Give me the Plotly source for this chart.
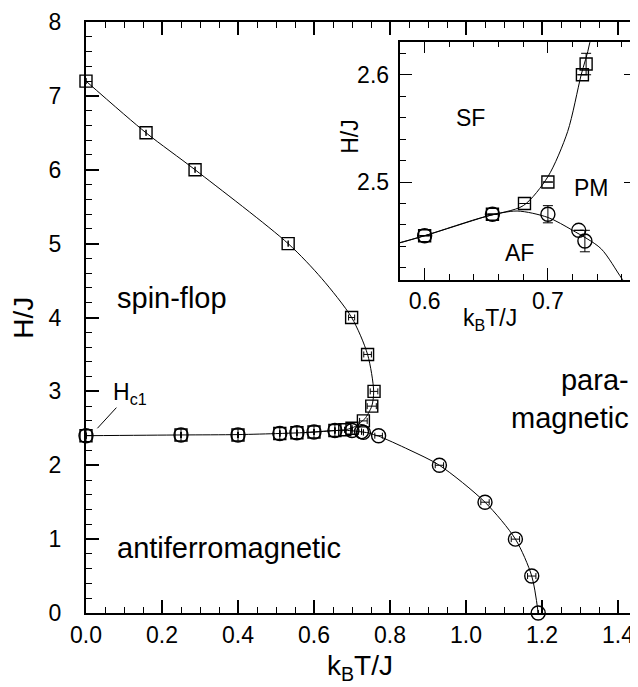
import plotly.graph_objects as go

FONT = "Liberation Sans, Arial, Helvetica, sans-serif"

# ---------------- data ----------------
# spin-flop boundary (squares), main panel
sf_T = [0.0, 0.158, 0.287, 0.532, 0.699, 0.741, 0.758, 0.752, 0.730, 0.700, 0.681]
sf_H = [7.2, 6.5, 6.0, 5.0, 4.0, 3.5, 3.0, 2.8, 2.6, 2.5, 2.48]
sf_errT = [0.0, 0.0, 0.0, 0.0, 0.008, 0.01, 0.01, 0.012, 0.01, 0.0, 0.0]

# low-field points (both squares and circles)
low_T = [0.0, 0.25, 0.40, 0.51, 0.555, 0.60, 0.655]
low_H = [2.40, 2.41, 2.41, 2.43, 2.44, 2.45, 2.47]

# antiferro / para boundary (circles)
af_T = [0.70, 0.725, 0.730, 0.77, 0.93, 1.05, 1.13, 1.173, 1.19]
af_H = [2.47, 2.455, 2.445, 2.40, 2.0, 1.5, 1.0, 0.5, 0.0]
af_errT = [0.0, 0.0, 0.0, 0.01, 0.011, 0.011, 0.011, 0.011, 0.0]

# fitted phase-boundary curves
curve_sf_T = [0.0, 0.158, 0.287, 0.532, 0.62, 0.699, 0.741, 0.757, 0.752, 0.734, 0.727,
              0.716, 0.70, 0.68, 0.65, 0.60, 0.575]
curve_sf_H = [7.2, 6.5, 6.0, 5.0, 4.53, 4.0, 3.5, 3.0, 2.8, 2.63, 2.60,
              2.547, 2.505, 2.478, 2.468, 2.45, 2.442]
curve_af_T = [0.0, 0.25, 0.40, 0.51, 0.575, 0.60, 0.65, 0.675, 0.70, 0.72, 0.743, 0.76,
              0.77, 0.85, 0.93, 1.05, 1.13, 1.173, 1.19]
curve_af_H = [2.40, 2.41, 2.415, 2.43, 2.442, 2.45, 2.468, 2.473, 2.467, 2.455, 2.438, 2.41,
              2.395, 2.21, 2.0, 1.5, 1.0, 0.5, 0.0]

# inset points
in_sq_T = [0.60, 0.655, 0.681, 0.70, 0.728, 0.731]
in_sq_H = [2.45, 2.47, 2.48, 2.50, 2.60, 2.61]
in_sq_err = [0.0, 0.0, 0.0, 0.0, 0.0, 0.01]
in_ci_T = [0.60, 0.655, 0.70, 0.725, 0.730]
in_ci_H = [2.45, 2.47, 2.47, 2.455, 2.445]
in_ci_err = [0.0, 0.0, 0.008, 0.0, 0.01]

# ---------------- figure ----------------
line_style = dict(color="black", width=1, shape="spline", smoothing=0.8)
fig = go.Figure()

for xa, ya in (("x", "y"), ("x2", "y2")):
    fig.add_trace(go.Scatter(x=curve_sf_T, y=curve_sf_H, mode="lines", line=line_style,
                             xaxis=xa, yaxis=ya, hoverinfo="skip"))
    fig.add_trace(go.Scatter(x=curve_af_T, y=curve_af_H, mode="lines", line=line_style,
                             xaxis=xa, yaxis=ya, hoverinfo="skip"))

sq_marker = dict(symbol="square-open", size=12, color="black", line=dict(width=1.4, color="black"))
ci_marker = dict(symbol="circle-open", size=14, color="black", line=dict(width=1.4, color="black"))

# main panel squares
fig.add_trace(go.Scatter(
    x=sf_T + low_T, y=sf_H + low_H, mode="markers", marker=sq_marker, cliponaxis=False,
    error_x=dict(type="data", array=sf_errT + [0.0] * len(low_T), width=3, thickness=1, color="black"),
    xaxis="x", yaxis="y"))
# main panel circles
fig.add_trace(go.Scatter(
    x=low_T + af_T, y=low_H + af_H, mode="markers", marker=ci_marker, cliponaxis=False,
    error_x=dict(type="data", array=[0.0] * len(low_T) + af_errT, width=3, thickness=1, color="black"),
    error_y=dict(type="data", array=[0.08] * len(low_T) + [0.0] * len(af_T), width=0, thickness=1, color="black"),
    xaxis="x", yaxis="y"))

# inset
fig.add_trace(go.Scatter(
    x=in_sq_T, y=in_sq_H, mode="markers", marker=sq_marker,
    error_y=dict(type="data", array=in_sq_err, width=5, thickness=1, color="black"),
    xaxis="x2", yaxis="y2"))
fig.add_trace(go.Scatter(
    x=in_ci_T, y=in_ci_H, mode="markers", marker=ci_marker,
    error_y=dict(type="data", array=in_ci_err, width=5, thickness=1, color="black"),
    xaxis="x2", yaxis="y2"))

tick_common = dict(showgrid=False, zeroline=False, showline=True, linecolor="black",
                   ticks="inside", tickcolor="black", layer="above traces")
minor_style = dict(ticklen=6, tickwidth=1.2, ticks="inside", tickcolor="black")

fig.update_layout(
    width=638, height=687, showlegend=False,
    margin=dict(l=78, r=0, t=14, b=82),
    paper_bgcolor="white", plot_bgcolor="white",
    font=dict(family=FONT, size=23, color="black"),
    xaxis=dict(domain=[0, 1], range=[0, 560 / 380], anchor="y", tickmode="linear", tick0=0,
               dtick=0.2, tickformat=".1f", ticklen=13, tickwidth=1.5, linewidth=2,
               mirror="ticks",
               minor=dict(dtick=0.05, **minor_style), **tick_common),
    yaxis=dict(domain=[0, 1], range=[0, 8], anchor="x", tickmode="linear", tick0=0, dtick=1,
               ticklen=13, tickwidth=1.5, linewidth=2, ticklabelstandoff=18,
               minor=dict(dtick=0.2, **minor_style), **tick_common),
    xaxis2=dict(domain=[0.560, 0.982], range=[0.5797, 0.7714], anchor="y2", tickmode="linear",
                tick0=0, dtick=0.1, tickformat=".1f", ticklen=12, tickwidth=1.4, linewidth=1.8,
                mirror="ticks",
                minor=dict(dtick=0.02, **minor_style), **tick_common),
    yaxis2=dict(domain=[0.564, 0.967], range=[2.409, 2.631], anchor="x2", tickmode="linear",
                tick0=0, dtick=0.1, tickformat=".1f", ticklen=12, tickwidth=1.4, linewidth=1.8,
                mirror="ticks", ticklabelstandoff=4,
                minor=dict(dtick=0.02, **minor_style), **tick_common),
)

ann = []
# axis titles (main)
ann.append(dict(text="H/J", xref="paper", yref="paper", x=-0.112, y=0.5, textangle=-90,
                showarrow=False, font=dict(size=28), xanchor="center", yanchor="middle"))
ann.append(dict(text="k<sub>B</sub>T/J", xref="paper", yref="paper", x=0.489, y=-0.092,
                showarrow=False, font=dict(size=28), xanchor="center", yanchor="middle"))
# axis titles (inset)
ann.append(dict(text="H/J", xref="paper", yref="paper", x=0.4709, y=0.807, textangle=-90,
                showarrow=False, font=dict(size=23), xanchor="center", yanchor="middle"))
ann.append(dict(text="k<sub>B</sub>T/J", xref="paper", yref="paper", x=0.7209, y=0.497,
                showarrow=False, font=dict(size=23), xanchor="center", yanchor="middle"))
# region labels (main)
ann.append(dict(text="spin-flop", xref="x", yref="y", x=0.075, y=4.27, showarrow=False,
                font=dict(size=29), xanchor="left", yanchor="middle"))
ann.append(dict(text="antiferromagnetic", xref="x", yref="y", x=0.075, y=0.88, showarrow=False,
                font=dict(size=29), xanchor="left", yanchor="middle"))
ann.append(dict(text="para-<br>magnetic", xref="x", yref="y", x=1.435, y=2.9, showarrow=False,
                font=dict(size=29), xanchor="right", yanchor="middle", align="right"))
ann.append(dict(text="H<sub>c1</sub>", xref="x", yref="y", x=0.066, y=2.97, showarrow=False,
                font=dict(size=23), xanchor="left", yanchor="middle"))
# region labels (inset)
ann.append(dict(text="SF", xref="x2", yref="y2", x=0.637, y=2.56, showarrow=False,
                font=dict(size=23), xanchor="center", yanchor="middle"))
ann.append(dict(text="PM", xref="x2", yref="y2", x=0.735, y=2.494, showarrow=False,
                font=dict(size=23), xanchor="center", yanchor="middle"))
ann.append(dict(text="AF", xref="x2", yref="y2", x=0.677, y=2.434, showarrow=False,
                font=dict(size=23), xanchor="center", yanchor="middle"))
fig.update_layout(annotations=ann)

# pointer line for H_c1
fig.add_shape(type="line", xref="x", yref="y", x0=0.030, y0=2.50, x1=0.080, y1=2.78,
              line=dict(color="black", width=1))

fig.write_html("out.html")
